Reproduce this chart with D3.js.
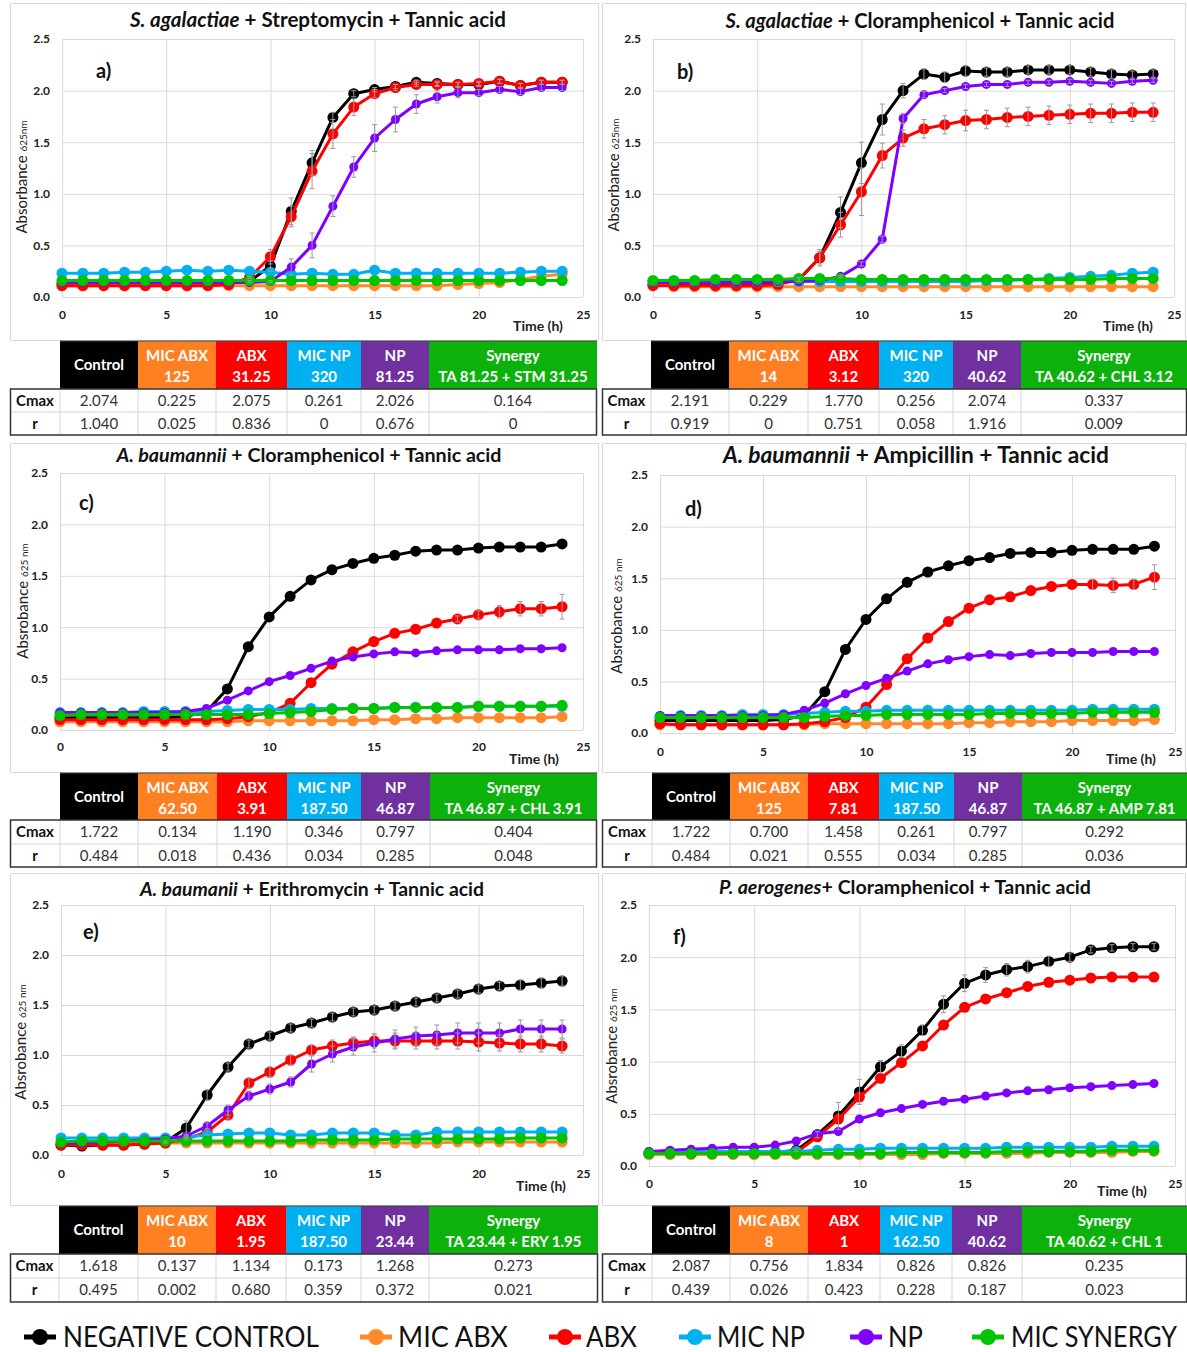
<!DOCTYPE html>
<html>
<head>
<meta charset="utf-8">
<script src="https://cdn.jsdelivr.net/npm/d3@7"></script>
<style>
  body { margin: 0; background: #fff; }
  text { font-family: Lato, "Open Sans", sans-serif; }
</style>
</head>
<body>
<div id="chart"></div>
<script>
// --- Data: hours and series values ---
const hours = [0,1,2,3,4,5,6,7,8,9,10,11,12,13,14,15,16,17,18,19,20,21,22,23,24];
const seriesNames = ["NEGATIVE CONTROL", "MIC ABX", "ABX", "MIC NP", "NP", "MIC SYNERGY"];
const colLabels = ["Control", "MIC ABX", "ABX", "MIC NP", "NP", "Synergy"];

// a) S. agalactiae + Streptomycin
const aCtl    = [0.13,0.13,0.13,0.13,0.13,0.13,0.13,0.13,0.13,0.15,0.30,0.83,1.30,1.74,1.97,2.01,2.04,2.08,2.07,2.06,2.06,2.09,2.05,2.08,2.08];
const aMicAbx = [0.11,0.11,0.11,0.11,0.11,0.11,0.11,0.11,0.11,0.11,0.11,0.11,0.11,0.11,0.11,0.11,0.11,0.11,0.11,0.12,0.13,0.14,0.17,0.20,0.22];
const aAbx    = [0.11,0.11,0.11,0.11,0.11,0.11,0.11,0.11,0.12,0.19,0.39,0.78,1.22,1.58,1.84,1.97,2.03,2.06,2.06,2.06,2.07,2.09,2.05,2.08,2.08];
const aMicNp  = [0.23,0.23,0.23,0.24,0.24,0.25,0.26,0.25,0.26,0.25,0.24,0.22,0.23,0.22,0.22,0.26,0.23,0.23,0.23,0.23,0.23,0.23,0.24,0.25,0.25];
const aNp     = [0.14,0.14,0.14,0.14,0.14,0.14,0.14,0.14,0.14,0.14,0.15,0.29,0.50,0.88,1.26,1.54,1.72,1.87,1.94,1.98,1.98,2.01,1.99,2.03,2.03];
const aSyn    = [0.16,0.16,0.16,0.16,0.16,0.16,0.16,0.16,0.16,0.16,0.16,0.16,0.16,0.16,0.16,0.16,0.16,0.16,0.16,0.16,0.16,0.16,0.16,0.16,0.16];
const aCtlErr = [0,0,0,0,0,0,0,0,0,0.01,0.05,0.13,0.12,0.05,0.03,0.02,0.02,0.02,0.02,0.02,0.02,0.02,0.02,0.02,0.02];
const aAbxErr = [0,0,0,0,0,0,0,0,0,0.01,0.07,0.10,0.17,0.14,0.08,0.04,0.03,0.02,0.02,0.02,0.02,0.02,0.02,0.02,0.02];
const aNpErr  = [0,0,0,0,0,0,0,0,0,0,0.01,0.08,0.12,0.10,0.10,0.13,0.12,0.09,0.06,0.05,0.03,0.03,0.03,0.03,0.03];

// b) S. agalactiae + Cloramphenicol
const bCtl    = [0.12,0.12,0.12,0.12,0.12,0.12,0.13,0.17,0.38,0.82,1.30,1.72,2.00,2.16,2.13,2.19,2.18,2.18,2.20,2.20,2.20,2.18,2.16,2.15,2.16];
const bMicAbx = [0.15,0.10,0.10,0.10,0.10,0.10,0.10,0.10,0.10,0.10,0.10,0.10,0.10,0.10,0.10,0.10,0.10,0.10,0.10,0.10,0.10,0.10,0.10,0.10,0.10];
const bAbx    = [0.11,0.11,0.11,0.11,0.11,0.11,0.12,0.17,0.38,0.70,1.02,1.37,1.54,1.63,1.67,1.71,1.72,1.74,1.75,1.76,1.77,1.78,1.78,1.79,1.79];
const bMicNp  = [0.15,0.15,0.15,0.15,0.15,0.15,0.15,0.15,0.15,0.15,0.15,0.15,0.15,0.15,0.15,0.15,0.16,0.16,0.17,0.18,0.19,0.20,0.21,0.23,0.24];
const bNp     = [0.14,0.14,0.14,0.14,0.14,0.14,0.15,0.15,0.16,0.20,0.32,0.56,1.73,1.96,2.00,2.04,2.06,2.06,2.08,2.08,2.09,2.08,2.07,2.09,2.10];
const bSyn    = [0.16,0.16,0.16,0.17,0.17,0.17,0.17,0.18,0.18,0.18,0.17,0.17,0.17,0.17,0.17,0.17,0.17,0.17,0.17,0.17,0.17,0.17,0.18,0.18,0.18];
const bCtlErr = [0,0,0,0,0,0,0,0.02,0.08,0.15,0.20,0.15,0.07,0.05,0.05,0.05,0.04,0.04,0.04,0.04,0.04,0.04,0.04,0.04,0.04];
const bAbxErr = [0,0,0,0,0,0,0,0.02,0.06,0.12,0.23,0.12,0.08,0.09,0.09,0.10,0.09,0.09,0.09,0.09,0.09,0.09,0.09,0.09,0.09];
const bNpErr  = [0,0,0,0,0,0,0,0,0,0.01,0.02,0.03,0.05,0.03,0.02,0.02,0.02,0.02,0.02,0.02,0.02,0.02,0.02,0.02,0.02];

// c) A. baumannii + Cloramphenicol
const cCtl    = [0.12,0.12,0.12,0.12,0.12,0.12,0.13,0.18,0.40,0.81,1.10,1.30,1.46,1.56,1.62,1.67,1.70,1.74,1.75,1.75,1.77,1.78,1.78,1.78,1.81];
const cMicAbx = [0.08,0.08,0.08,0.08,0.08,0.08,0.08,0.08,0.08,0.09,0.09,0.09,0.09,0.09,0.09,0.10,0.10,0.11,0.11,0.12,0.12,0.12,0.12,0.12,0.13];
const cAbx    = [0.10,0.10,0.10,0.10,0.10,0.10,0.10,0.10,0.11,0.13,0.17,0.26,0.46,0.64,0.76,0.86,0.94,0.98,1.04,1.08,1.12,1.15,1.18,1.18,1.20];
const cMicNp  = [0.17,0.17,0.17,0.17,0.18,0.18,0.18,0.18,0.19,0.20,0.20,0.20,0.21,0.21,0.21,0.21,0.22,0.22,0.22,0.22,0.23,0.23,0.23,0.23,0.23];
const cNp     = [0.17,0.17,0.17,0.17,0.17,0.17,0.18,0.21,0.29,0.38,0.47,0.53,0.60,0.67,0.71,0.74,0.76,0.75,0.77,0.78,0.78,0.78,0.79,0.79,0.80];
const cSyn    = [0.14,0.15,0.15,0.15,0.15,0.15,0.15,0.15,0.15,0.15,0.16,0.17,0.18,0.20,0.21,0.21,0.22,0.22,0.22,0.22,0.23,0.23,0.23,0.23,0.24];
const cAbxErr = [0,0,0,0,0,0,0,0,0,0,0,0,0,0,0,0,0,0,0,0.03,0.04,0.06,0.07,0.07,0.12];

// d) A. baumannii + Ampicillin
const dCtl    = [0.12,0.12,0.12,0.12,0.12,0.12,0.13,0.17,0.40,0.81,1.10,1.30,1.46,1.56,1.62,1.67,1.70,1.74,1.75,1.75,1.77,1.78,1.78,1.78,1.81];
const dMicAbx = [0.08,0.08,0.08,0.08,0.08,0.08,0.08,0.08,0.09,0.09,0.09,0.09,0.09,0.09,0.09,0.10,0.10,0.11,0.11,0.11,0.12,0.12,0.12,0.12,0.13];
const dAbx    = [0.09,0.08,0.08,0.08,0.08,0.08,0.08,0.09,0.11,0.15,0.25,0.47,0.72,0.92,1.08,1.21,1.29,1.32,1.38,1.42,1.44,1.44,1.43,1.44,1.51];
const dMicNp  = [0.16,0.17,0.17,0.17,0.18,0.18,0.18,0.19,0.20,0.21,0.21,0.22,0.22,0.22,0.22,0.22,0.22,0.22,0.22,0.22,0.22,0.23,0.23,0.23,0.23];
const dNp     = [0.17,0.17,0.17,0.17,0.17,0.17,0.18,0.22,0.29,0.38,0.46,0.53,0.60,0.67,0.71,0.74,0.76,0.75,0.77,0.78,0.78,0.78,0.79,0.79,0.79];
const dSyn    = [0.15,0.15,0.15,0.15,0.15,0.15,0.15,0.15,0.16,0.17,0.17,0.18,0.18,0.18,0.18,0.18,0.19,0.19,0.19,0.19,0.19,0.20,0.20,0.20,0.20];
const dAbxErr = [0,0,0,0,0,0,0,0,0,0,0,0,0,0,0,0,0,0,0,0,0,0.05,0.07,0.05,0.12];

// e) A. baumanii + Erithromycin
const eCtl    = [0.10,0.09,0.10,0.10,0.11,0.13,0.27,0.60,0.88,1.11,1.19,1.27,1.32,1.38,1.43,1.45,1.49,1.53,1.57,1.61,1.66,1.69,1.70,1.72,1.74];
const eMicAbx = [0.12,0.12,0.12,0.12,0.12,0.12,0.12,0.12,0.12,0.12,0.12,0.12,0.12,0.12,0.12,0.12,0.12,0.12,0.12,0.13,0.13,0.13,0.13,0.13,0.13];
const eAbx    = [0.10,0.10,0.10,0.10,0.11,0.12,0.16,0.23,0.40,0.72,0.83,0.95,1.05,1.09,1.12,1.14,1.14,1.14,1.14,1.14,1.13,1.12,1.11,1.11,1.09];
const eMicNp  = [0.17,0.17,0.17,0.17,0.17,0.17,0.18,0.20,0.21,0.22,0.22,0.20,0.20,0.22,0.22,0.22,0.20,0.20,0.23,0.23,0.23,0.23,0.23,0.23,0.23];
const eNp     = [0.12,0.12,0.13,0.14,0.15,0.16,0.19,0.29,0.45,0.59,0.66,0.73,0.91,1.01,1.08,1.12,1.16,1.19,1.20,1.22,1.22,1.22,1.26,1.26,1.26];
const eSyn    = [0.13,0.14,0.14,0.14,0.14,0.14,0.14,0.14,0.14,0.14,0.14,0.14,0.15,0.15,0.15,0.15,0.16,0.16,0.16,0.16,0.16,0.16,0.17,0.17,0.17];
const eCtlErr = [0,0,0,0,0,0.01,0.07,0.05,0.04,0.04,0.04,0.04,0.04,0.04,0.04,0.04,0.04,0.04,0.04,0.04,0.04,0.04,0.05,0.05,0.05];
const eAbxErr = [0,0,0,0,0,0,0.01,0.03,0.04,0.05,0.05,0.05,0.05,0.06,0.06,0.07,0.08,0.08,0.08,0.08,0.09,0.08,0.08,0.08,0.07];
const eNpErr  = [0,0,0,0,0,0,0.01,0.03,0.05,0.05,0.05,0.05,0.08,0.08,0.08,0.09,0.09,0.09,0.10,0.10,0.10,0.10,0.09,0.09,0.09];

// f) P. aerogenes + Cloramphenicol
const fCtl    = [0.12,0.12,0.12,0.12,0.12,0.12,0.13,0.15,0.30,0.48,0.71,0.95,1.10,1.30,1.55,1.75,1.83,1.88,1.91,1.96,2.00,2.07,2.09,2.10,2.10];
const fMicAbx = [0.11,0.11,0.11,0.11,0.11,0.11,0.11,0.11,0.11,0.11,0.11,0.11,0.11,0.11,0.12,0.12,0.12,0.12,0.12,0.13,0.13,0.13,0.13,0.14,0.14];
const fAbx    = [0.12,0.12,0.12,0.12,0.12,0.12,0.12,0.13,0.28,0.45,0.66,0.84,0.99,1.15,1.35,1.52,1.60,1.66,1.72,1.76,1.78,1.80,1.81,1.81,1.81];
const fMicNp  = [0.13,0.14,0.14,0.14,0.14,0.14,0.14,0.14,0.15,0.16,0.16,0.17,0.17,0.17,0.17,0.17,0.17,0.18,0.18,0.18,0.18,0.18,0.19,0.19,0.19];
const fNp     = [0.14,0.15,0.16,0.17,0.18,0.18,0.20,0.24,0.31,0.33,0.45,0.51,0.55,0.59,0.62,0.64,0.67,0.70,0.72,0.73,0.75,0.76,0.77,0.78,0.79];
const fSyn    = [0.12,0.12,0.12,0.12,0.12,0.12,0.12,0.12,0.12,0.12,0.12,0.12,0.13,0.13,0.13,0.13,0.13,0.14,0.14,0.14,0.14,0.14,0.15,0.15,0.15];
const fCtlErr = [0,0,0,0,0,0,0,0.01,0.03,0.13,0.12,0.06,0.06,0.05,0.08,0.08,0.07,0.06,0.06,0.05,0.04,0.03,0.03,0.03,0.03];

// table values
const aHead = ["125","31.25","320","81.25","TA 81.25 + STM 31.25"];
const aCmax = ["2.074","0.225","2.075","0.261","2.026","0.164"];
const aR    = ["1.040","0.025","0.836","0","0.676","0"];
const bHead = ["14","3.12","320","40.62","TA 40.62 + CHL 3.12"];
const bCmax = ["2.191","0.229","1.770","0.256","2.074","0.337"];
const bR    = ["0.919","0","0.751","0.058","1.916","0.009"];
const cHead = ["62.50","3.91","187.50","46.87","TA 46.87 + CHL 3.91"];
const cCmax = ["1.722","0.134","1.190","0.346","0.797","0.404"];
const cR    = ["0.484","0.018","0.436","0.034","0.285","0.048"];
const dHead = ["125","7.81","187.50","46.87","TA 46.87 + AMP 7.81"];
const dCmax = ["1.722","0.700","1.458","0.261","0.797","0.292"];
const dR    = ["0.484","0.021","0.555","0.034","0.285","0.036"];
const eHead = ["10","1.95","187.50","23.44","TA 23.44 + ERY 1.95"];
const eCmax = ["1.618","0.137","1.134","0.173","1.268","0.273"];
const eR    = ["0.495","0.002","0.680","0.359","0.372","0.021"];
const fHead = ["8","1","162.50","40.62","TA 40.62 + CHL 1"];
const fCmax = ["2.087","0.756","1.834","0.826","0.826","0.235"];
const fR    = ["0.439","0.026","0.423","0.228","0.187","0.023"];

const yTicks = [0, 0.5, 1, 1.5, 2, 2.5];
const xTicks = [0, 5, 10, 15, 20, 25];

// --- Styles ---
const lineColors = ["#000000", "#ff8a2b", "#ff0000", "#00b0f0", "#7f00ff", "#00c400"];
const headColors = ["#000000", "#ff8022", "#ff0000", "#00b0f0", "#7030a0", "#0cb10c"];
const dotR = [5.5, 5.5, 5.5, 5.5, 4.5, 5.5];

// --- Panel layout ---
const panels = [
  { letter: "a)", sp: "S. agalactiae", rest: " + Streptomycin + Tannic acid", yWord: "Absorbance", ySub: "625nm",
    series: [aCtl, aMicAbx, aAbx, aMicNp, aNp, aSyn], err: [aCtlErr, null, aAbxErr, null, aNpErr, null],
    head: aHead, cmax: aCmax, r: aR,
    frame: [10, 3, 588, 337], plot: { l: 62, r: 583, t: 39, b: 297 },
    title: [318, 27, 376], lab: [96, 78], ylab: [22, 177], time: [538, 331], xty: 320,
    tab: { top: 341, hb: 389, r1: 412, r2: 435, cols: [10, 60, 138, 216, 287, 361, 429, 597] } },
  { letter: "b)", sp: "S. agalactiae", rest: " + Cloramphenicol + Tannic acid", yWord: "Absorbance", ySub: "625nm",
    series: [bCtl, bMicAbx, bAbx, bMicNp, bNp, bSyn], err: [bCtlErr, null, bAbxErr, null, bNpErr, null],
    head: bHead, cmax: bCmax, r: bR,
    frame: [602, 3, 583, 337], plot: { l: 653, r: 1174, t: 39, b: 297 },
    title: [920, 28, 389], lab: [677, 79], ylab: [614, 175], time: [1128, 331], xty: 320,
    tab: { top: 341, hb: 389, r1: 412, r2: 435, cols: [602, 651, 729, 808, 879, 953, 1021, 1187] } },
  { letter: "c)", sp: "A. baumannii", rest: " + Cloramphenicol + Tannic acid", yWord: "Absrobance", ySub: "625 nm",
    series: [cCtl, cMicAbx, cAbx, cMicNp, cNp, cSyn], err: [null, null, cAbxErr, null, null, null],
    head: cHead, cmax: cCmax, r: cR,
    frame: [10, 443, 588, 329], plot: { l: 60, r: 583, t: 473, b: 730 },
    title: [309, 462, 385], lab: [79, 510], ylab: [23, 601], time: [534, 764], xty: 752,
    tab: { top: 773, hb: 820, r1: 844, r2: 867, cols: [10, 60, 138, 217, 287, 361, 430, 597] } },
  { letter: "d)", sp: "A. baumannii", rest: " + Ampicillin + Tannic acid", yWord: "Absrobance", ySub: "625 nm",
    series: [dCtl, dMicAbx, dAbx, dMicNp, dNp, dSyn], err: [null, null, dAbxErr, null, null, null],
    head: dHead, cmax: dCmax, r: dR,
    frame: [602, 443, 583, 329], plot: { l: 660, r: 1175, t: 475, b: 733 },
    title: [916, 463, 386], lab: [685, 516], ylab: [617, 616], time: [1131, 764], xty: 757,
    tab: { top: 773, hb: 820, r1: 844, r2: 867, cols: [602, 652, 730, 808, 879, 954, 1022, 1187] } },
  { letter: "e)", sp: "A. baumanii", rest: " + Erithromycin + Tannic acid", yWord: "Absrobance", ySub: "625 nm",
    series: [eCtl, eMicAbx, eAbx, eMicNp, eNp, eSyn], err: [eCtlErr, null, eAbxErr, null, eNpErr, null],
    head: eHead, cmax: eCmax, r: eR,
    frame: [10, 873, 588, 332], plot: { l: 61, r: 583, t: 905, b: 1155 },
    title: [312, 896, 344], lab: [83, 939], ylab: [21, 1042], time: [541, 1191], xty: 1179,
    tab: { top: 1206, hb: 1254, r1: 1278, r2: 1302, cols: [10, 59, 138, 216, 286, 361, 429, 598] } },
  { letter: "f)", sp: "P. aerogenes", rest: "+ Cloramphenicol + Tannic acid", yWord: "Absrobance", ySub: "625 nm",
    series: [fCtl, fMicAbx, fAbx, fMicNp, fNp, fSyn], err: [fCtlErr, null, null, null, null, null],
    head: fHead, cmax: fCmax, r: fR,
    frame: [602, 873, 583, 332], plot: { l: 649, r: 1175, t: 905, b: 1166 },
    title: [905, 894, 372], lab: [673, 944], ylab: [612, 1046], time: [1122, 1196], xty: 1189,
    tab: { top: 1206, hb: 1254, r1: 1278, r2: 1302, cols: [602, 652, 730, 808, 880, 952, 1022, 1187] } }
];

const W = 1187, H = 1352;
const svg = d3.select("#chart").append("svg")
  .attr("width", W).attr("height", H)
  .attr("viewBox", `0 0 ${W} ${H}`)
  .style("background", "#fff");

const fmt = d3.format(".1f");

function drawPanel(p) {
  const g = svg.append("g");
  const { l, r, t, b } = p.plot;
  const x = d3.scaleLinear().domain([0, 25]).range([l, r]);
  const y = d3.scaleLinear().domain([0, 2.5]).range([b, t]);

  // chart frame
  g.append("rect")
    .attr("x", p.frame[0] + 0.5).attr("y", p.frame[1] + 0.5)
    .attr("width", p.frame[2]).attr("height", p.frame[3])
    .attr("fill", "#fff").attr("stroke", "#d9d9d9");

  // gridlines
  g.append("g").attr("transform", `translate(${l},0)`)
    .call(d3.axisLeft(y).tickValues(yTicks).tickSize(-(r - l)).tickFormat(""))
    .call(s => s.select(".domain").remove())
    .selectAll("line").attr("stroke", "#d9d9d9");
  g.append("g").attr("transform", `translate(0,${b})`)
    .call(d3.axisBottom(x).tickValues(xTicks).tickSize(-(b - t)).tickFormat(""))
    .call(s => s.select(".domain").remove())
    .selectAll("line").attr("stroke", "#d9d9d9");

  // tick labels
  g.append("g").attr("transform", `translate(${l},0)`)
    .call(d3.axisLeft(y).tickValues(yTicks).tickSize(0).tickPadding(12).tickFormat(fmt))
    .call(s => s.select(".domain").remove())
    .selectAll("text")
    .attr("fill", "#222").style("font-size", "12px").style("font-weight", "bold")
    .style("font-family", "Lato, sans-serif");
  g.append("g").attr("transform", `translate(0,${p.xty - 10})`)
    .call(d3.axisBottom(x).tickValues(xTicks).tickSize(0).tickPadding(0))
    .call(s => s.select(".domain").remove())
    .selectAll("text")
    .attr("fill", "#222").style("font-size", "12px").style("font-weight", "bold")
    .style("font-family", "Lato, sans-serif");

  // series lines + markers
  const line = d3.line().x((d, i) => x(hours[i])).y(d => y(d));
  p.series.forEach((vals, k) => {
    g.append("path").datum(vals)
      .attr("d", line).attr("fill", "none")
      .attr("stroke", lineColors[k]).attr("stroke-width", 3)
      .attr("stroke-linejoin", "round");
    g.selectAll(null).data(vals).enter().append("circle")
      .attr("cx", (d, i) => x(hours[i])).attr("cy", d => y(d))
      .attr("r", dotR[k]).attr("fill", lineColors[k]);
  });

  // error bars
  p.err.forEach((errs, k) => {
    if (!errs) return;
    const vals = p.series[k];
    const eg = g.append("g").attr("stroke", "#9a9a9a").attr("stroke-width", 1);
    errs.forEach((e, i) => {
      if (!e) return;
      const cx = x(hours[i]);
      eg.append("line").attr("x1", cx).attr("x2", cx)
        .attr("y1", y(vals[i] - e)).attr("y2", y(vals[i] + e));
      [vals[i] - e, vals[i] + e].forEach(v => {
        eg.append("line").attr("x1", cx - 2.5).attr("x2", cx + 2.5)
          .attr("y1", y(v)).attr("y2", y(v));
      });
    });
  });

  // title
  const title = g.append("text")
    .attr("x", p.title[0]).attr("y", p.title[1])
    .attr("text-anchor", "middle").attr("fill", "#111")
    .style("font-size", "19px").style("font-weight", "bold");
  title.append("tspan").style("font-style", "italic").text(p.sp);
  title.append("tspan").text(p.rest);
  const tw = title.node().getComputedTextLength();
  title.style("font-size", (19 * p.title[2] / tw).toFixed(2) + "px");

  // panel letter
  g.append("text").attr("x", p.lab[0]).attr("y", p.lab[1])
    .attr("fill", "#111").style("font-size", "20px").style("font-weight", "bold")
    .text(p.letter);

  // y axis title
  const yt = g.append("text")
    .attr("transform", `translate(${p.ylab[0] + 5},${p.ylab[1]}) rotate(-90)`)
    .attr("text-anchor", "middle").attr("fill", "#222");
  yt.append("tspan").style("font-size", "15px").text(p.yWord + " ");
  yt.append("tspan").style("font-size", "10px").text(p.ySub);

  // x axis title
  g.append("text").attr("x", p.time[0]).attr("y", p.time[1])
    .attr("text-anchor", "middle").attr("fill", "#222")
    .style("font-size", "14px").style("font-weight", "bold")
    .text("Time (h)");

  drawTable(g, p);
}

function drawTable(g, p) {
  const { top, hb, r1, r2, cols } = p.tab;
  const tg = g.append("g");

  // header cells
  colLabels.forEach((lab, i) => {
    const x0 = cols[i + 1], x1 = cols[i + 2], mid = (x0 + x1) / 2;
    tg.append("rect").attr("x", x0).attr("y", top)
      .attr("width", x1 - x0).attr("height", hb - top)
      .attr("fill", headColors[i]);
    const tx = tg.append("text").attr("text-anchor", "middle").attr("fill", "#fff")
      .style("font-size", "15px").style("font-weight", "bold");
    if (i === 0) {
      tx.attr("x", mid).attr("y", (top + hb) / 2 + 5).text(lab);
    } else {
      tx.attr("x", mid).attr("y", top + 20).text(lab);
      tg.append("text").attr("text-anchor", "middle").attr("fill", "#fff")
        .style("font-size", "15px").style("font-weight", "bold")
        .attr("x", mid).attr("y", top + 41).text(p.head[i - 1]);
    }
  });

  // data rows
  const rows = [["Cmax", p.cmax, hb, r1], ["r", p.r, r1, r2]];
  rows.forEach(([name, vals, y0, y1]) => {
    const cy = (y0 + y1) / 2 + 5;
    tg.append("text").attr("x", (cols[0] + cols[1]) / 2).attr("y", cy)
      .attr("text-anchor", "middle").attr("fill", "#111")
      .style("font-size", "15px").style("font-weight", "bold").text(name);
    vals.forEach((v, i) => {
      tg.append("text").attr("x", (cols[i + 1] + cols[i + 2]) / 2).attr("y", cy)
        .attr("text-anchor", "middle").attr("fill", "#333")
        .style("font-size", "15px").text(v);
    });
  });

  // inner light separators
  cols.slice(1, -1).forEach(cx => {
    tg.append("line").attr("x1", cx).attr("x2", cx).attr("y1", hb).attr("y2", r2)
      .attr("stroke", "#d4d4d4");
  });
  tg.append("line").attr("x1", cols[0]).attr("x2", cols[cols.length - 1])
    .attr("y1", r1).attr("y2", r1).attr("stroke", "#d4d4d4");

  // dark outer borders
  tg.append("rect").attr("x", cols[0] + 0.5).attr("y", hb)
    .attr("width", cols[cols.length - 1] - cols[0] - 1).attr("height", r2 - hb)
    .attr("fill", "none").attr("stroke", "#333").attr("stroke-width", 1.5);
  tg.append("line").attr("x1", cols[1]).attr("x2", cols[cols.length - 1])
    .attr("y1", top).attr("y2", top).attr("stroke", "#444");
}

panels.forEach(drawPanel);

// --- Legend: marker centre, text start, text width ---
const legendPos = [[40, 63, 256], [376, 398, 110], [565, 586, 51], [695, 717, 88], [866, 888, 35], [988, 1011, 166]];
const legendY = 1337;
const lg = svg.append("g");
seriesNames.forEach((name, i) => {
  const [mx, tx, tw] = legendPos[i];
  lg.append("line").attr("x1", mx - 16).attr("x2", mx + 16)
    .attr("y1", legendY).attr("y2", legendY)
    .attr("stroke", lineColors[i]).attr("stroke-width", 5);
  lg.append("circle").attr("cx", mx).attr("cy", legendY).attr("r", 8)
    .attr("fill", lineColors[i]);
  // narrow the text horizontally to the width used in the figure
  const t = lg.append("text").attr("x", 0).attr("y", 0)
    .attr("fill", "#111").style("font-size", "28px")
    .text(name);
  const sx = tw / t.node().getComputedTextLength();
  t.attr("transform", `translate(${tx},${legendY + 10}) scale(${sx.toFixed(3)},1)`);
});
</script>
</body>
</html>
